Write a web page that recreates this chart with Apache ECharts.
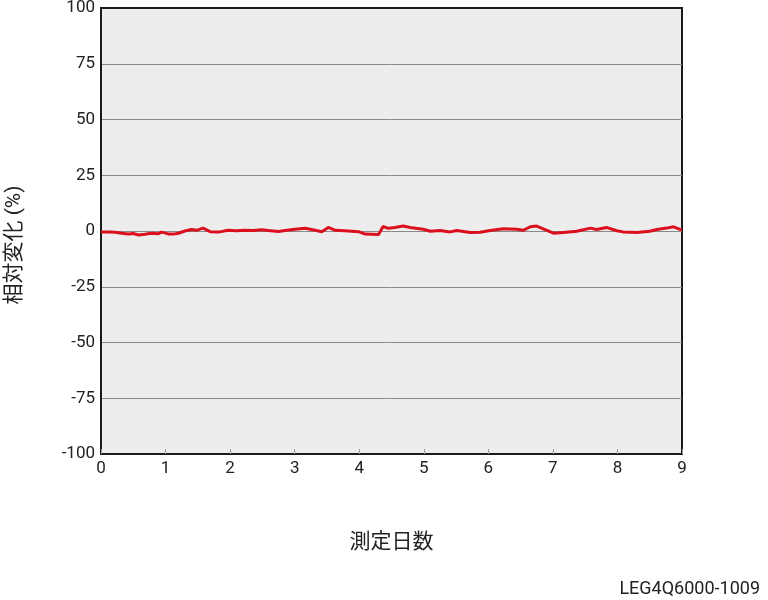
<!DOCTYPE html>
<html><head><meta charset="utf-8">
<script src="https://cdn.jsdelivr.net/npm/echarts@6/dist/echarts.min.js"></script>
<style>html,body{margin:0;padding:0;background:#fff}#c{width:768px;height:600px}</style>
</head><body><div id="c"></div>
<script>
var days = [0,0.01,0.12,0.22,0.32,0.42,0.5,0.58,0.68,0.78,0.89,0.94,1.04,1.12,1.2,1.3,1.4,1.48,1.58,1.69,1.82,1.97,2.1,2.23,2.36,2.49,2.59,2.75,2.88,3.01,3.16,3.32,3.42,3.52,3.63,3.83,3.99,4.09,4.3,4.37,4.45,4.55,4.68,4.79,4.99,5.1,5.25,5.41,5.51,5.72,5.87,6.03,6.23,6.44,6.54,6.65,6.75,6.85,7.01,7.16,7.37,7.58,7.68,7.83,7.99,8.09,8.3,8.5,8.61,8.76,8.87,8.97,9];
var values = [-0.5,-0.5,-0.4,-0.6,-1.0,-1.3,-1.1,-1.8,-1.5,-1.0,-1.2,-0.5,-1.3,-1.4,-1.0,0,0.7,0.3,1.3,-0.3,-0.5,0.3,0.1,0.3,0.2,0.6,0.2,-0.2,0.3,0.8,1.2,0.3,-0.3,1.6,0.3,0,-0.3,-1.4,-1.6,2.0,1.2,1.6,2.2,1.6,0.8,-0.1,0.2,-0.4,0.2,-0.7,-0.6,0.2,1.0,0.8,0.3,1.9,2.2,1.0,-1.0,-0.7,-0.1,1.3,0.7,1.6,0.1,-0.4,-0.7,-0.1,0.7,1.3,1.9,0.7,0.4];
var yTicks = [-100,-75,-50,-25,0,25,50,75,100];
var xTicks = [0,1,2,3,4,5,6,7,8,9];
var yName = '相対変化 (%)';
var xName = '測定日数';
var code = 'LEG4Q6000-1009';

var pts = days.map(function(d,i){return [d, values[i]];});
var chart = echarts.init(document.getElementById('c'), null, {renderer:'canvas'});
var font = 'Roboto, "Noto Sans CJK JP", sans-serif';
chart.setOption({
  animation:false,
  grid:{left:101,right:86,top:8,bottom:146,containLabel:false,outerBoundsMode:'none',show:true,backgroundColor:'#ededed',borderColor:'#1a1a1a',borderWidth:2},
  xAxis:{type:'value',min:xTicks[0],max:xTicks[xTicks.length-1],interval:1,
    name:xName,nameLocation:'middle',nameGap:78,
    nameTextStyle:{fontSize:21,color:'#222',fontFamily:font},
    axisLine:{show:true,onZero:false,lineStyle:{color:'#1a1a1a',width:2}},
    axisTick:{show:true,inside:true,length:5,lineStyle:{color:'#999',width:1}},
    axisLabel:{fontSize:17,color:'#222',margin:6,fontFamily:font},
    splitLine:{show:false}},
  yAxis:{type:'value',min:yTicks[0],max:yTicks[yTicks.length-1],interval:25,
    axisLine:{show:true,onZero:false,lineStyle:{color:'#1a1a1a',width:2}},
    axisTick:{show:false},
    axisLabel:{fontSize:17,color:'#222',margin:6,fontFamily:font},
    splitLine:{show:true,showMinLine:false,showMaxLine:false,lineStyle:{color:'#8a8a8a',width:1}}},
  graphic:[
    {type:'text',right:8,top:581,style:{text:code,fontSize:18,fill:'#222',fontFamily:font}},
    {type:'text',x:15,y:245,rotation:Math.PI/2,style:{text:yName,fontSize:21,fill:'#222',fontFamily:font,align:'center',verticalAlign:'middle'}}
  ],
  series:[{type:'line',data:pts,showSymbol:false,smooth:false,
    lineStyle:{color:'#dc0f1e',width:3},z:5}]
});
</script></body></html>
